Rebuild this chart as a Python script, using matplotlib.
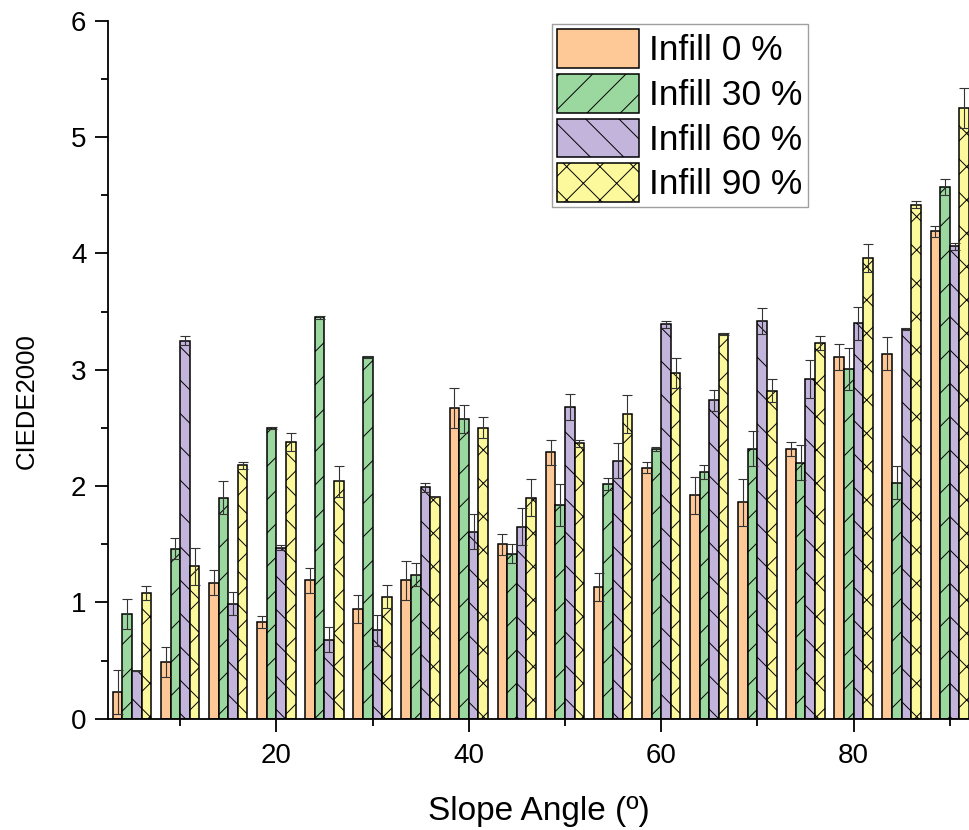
import numpy as np
import matplotlib
matplotlib.use('Agg')
import matplotlib.pyplot as plt
from matplotlib.ticker import MultipleLocator

plt.rcParams['font.family'] = ['Liberation Sans', 'DejaVu Sans']
plt.rcParams['hatch.linewidth'] = 0.7

angles = [5, 10, 15, 20, 25, 30, 35, 40, 45, 50, 55, 60, 65, 70, 75, 80, 85, 90]

infill0 = [0.23, 0.49, 1.17, 0.83, 1.19, 0.94, 1.19, 2.67, 1.50, 2.29, 1.13, 2.16, 1.92, 1.86, 2.32, 3.11, 3.14, 4.19]
err0 = [0.19, 0.13, 0.11, 0.05, 0.11, 0.12, 0.17, 0.17, 0.09, 0.11, 0.12, 0.05, 0.16, 0.20, 0.06, 0.11, 0.14, 0.05]

infill30 = [0.90, 1.46, 1.90, 2.50, 3.45, 3.11, 1.24, 2.58, 1.42, 1.84, 2.02, 2.32, 2.12, 2.32, 2.20, 3.01, 2.03, 4.57]
err30 = [0.13, 0.09, 0.14, 0.01, 0.01, 0.01, 0.10, 0.12, 0.08, 0.18, 0.05, 0.02, 0.06, 0.15, 0.15, 0.18, 0.14, 0.07]

infill60 = [0.41, 3.25, 0.99, 1.47, 0.68, 0.76, 1.99, 1.61, 1.65, 2.68, 2.22, 3.39, 2.74, 3.42, 2.92, 3.40, 3.35, 4.06]
err60 = [0.00, 0.04, 0.10, 0.02, 0.11, 0.13, 0.04, 0.15, 0.16, 0.11, 0.15, 0.03, 0.09, 0.11, 0.16, 0.14, 0.01, 0.03]

infill90 = [1.08, 1.31, 2.18, 2.38, 2.04, 1.05, 1.91, 2.50, 1.90, 2.37, 2.62, 2.97, 3.31, 2.82, 3.23, 3.96, 4.42, 5.25]
err90 = [0.06, 0.16, 0.03, 0.08, 0.13, 0.10, 0.00, 0.09, 0.16, 0.03, 0.16, 0.13, 0.01, 0.10, 0.06, 0.12, 0.03, 0.17]

labels = ['Infill 0 %', 'Infill 30 %', 'Infill 60 %', 'Infill 90 %']
colors = ['#FFC896', '#9BD8A0', '#C3B4DC', '#FCF99C']
hatches = ['', '/', '\\', 'x']
series = [infill0, infill30, infill60, infill90]
errors = [err0, err30, err60, err90]

fig = plt.figure(figsize=(9.69, 8.30), dpi=100)
ax = fig.add_axes([108/969, 111.2/830, 861/969, 698/830])

x = np.array(angles, dtype=float)
w = 1.0
offsets = [-1.5, -0.5, 0.5, 1.5]
for vals, errs, lab, c, h, off in zip(series, errors, labels, colors, hatches, offsets):
    ax.bar(x + off*w, vals, width=w, color=c, edgecolor='black', linewidth=1.1,
           hatch=h, label=lab, zorder=2)
    ax.errorbar(x + off*w, vals, yerr=errs, fmt='none', ecolor='#333333',
                elinewidth=0.8, capsize=3.6, capthick=0.8, zorder=3)

ax.set_xlim(2.5, 92)
ax.set_ylim(0, 6)
ax.xaxis.set_major_locator(MultipleLocator(20))
ax.xaxis.set_minor_locator(MultipleLocator(10))
ax.yaxis.set_major_locator(MultipleLocator(1))
ax.yaxis.set_minor_locator(MultipleLocator(0.5))
ax.tick_params(which='major', length=9.5, width=1.3, labelsize=20, pad=6)
ax.tick_params(axis='x', which='major', pad=8)
ax.tick_params(which='minor', length=5, width=1.3)
for s in ['top', 'right']:
    ax.spines[s].set_visible(False)
for s in ['left', 'bottom']:
    ax.spines[s].set_linewidth(1.3)

ax.set_xlabel('Slope Angle (º)', fontsize=24)
ax.set_ylabel('CIEDE2000', fontsize=18.5)
ax.xaxis.set_label_coords(0.5, -0.11)
ax.yaxis.set_label_coords(-0.08, 0.455)

leg = ax.legend(loc='upper left', bbox_to_anchor=(0.5157, 0.9954), fontsize=25.5,
                handlelength=2.3, handleheight=1.3, labelspacing=0.17,
                handletextpad=0.3, borderpad=0.15, borderaxespad=0,
                fancybox=False, frameon=True)
leg.get_frame().set_edgecolor('#888888')
leg.get_frame().set_linewidth(1.0)

fig.savefig('out.png', dpi=100)
